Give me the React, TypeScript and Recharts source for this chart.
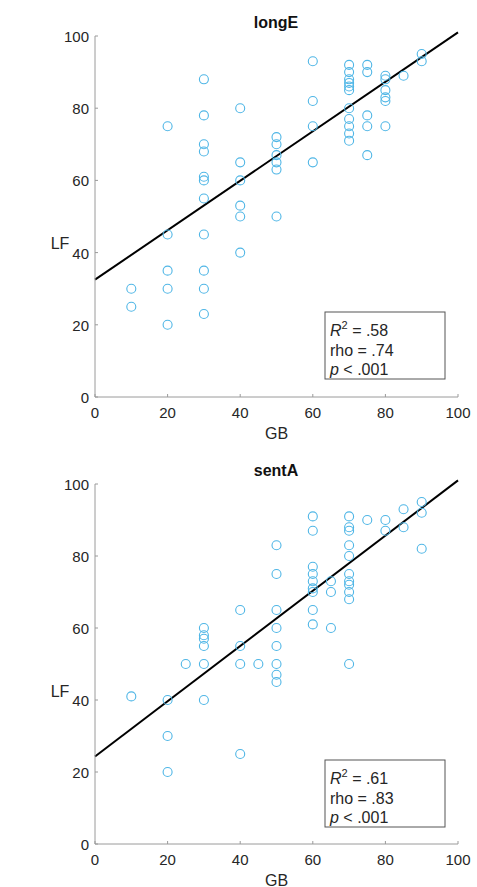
import React from 'react'
import { ReferenceLine, Scatter, ScatterChart, XAxis, YAxis } from 'recharts'

const gbTicks = [0, 20, 40, 60, 80, 100]
const lfTicks = [0, 20, 40, 60, 80, 100]

// longE panel
const longEGB = [
  10, 10,
  20, 20, 20, 20, 20,
  30, 30, 30, 30, 30, 30, 30, 30, 30, 30, 30,
  40, 40, 40, 40, 40, 40,
  50, 50, 50, 50, 50, 50,
  60, 60, 60, 60,
  70, 70, 70, 70, 70, 70, 70, 70, 70, 70, 70,
  75, 75, 75, 75, 75,
  80, 80, 80, 80, 80, 80,
  85,
  90, 90,
]
const longELF = [
  30, 25,
  75, 45, 35, 30, 20,
  88, 78, 70, 68, 61, 60, 55, 45, 35, 30, 23,
  80, 65, 60, 53, 50, 40,
  72, 70, 67, 65, 63, 50,
  93, 82, 75, 65,
  92, 90, 88, 87, 86, 85, 80, 77, 75, 73, 71,
  92, 90, 78, 75, 67,
  89, 88, 85, 83, 82, 75,
  89,
  95, 93,
]
const longEFitX = [0, 100]
const longEFitY = [32.5, 101]
const longEStats = ['.58', '.74', '.001']

// sentA panel
const sentAGB = [
  10,
  20, 20, 20,
  25,
  30, 30, 30, 30, 30, 30,
  40, 40, 40, 40,
  45,
  50, 50, 50, 50, 50, 50, 50, 50,
  60, 60, 60, 60, 60, 60, 60, 60, 60,
  65, 65, 65,
  70, 70, 70, 70, 70, 70, 70, 70, 70, 70, 70,
  75,
  80, 80,
  85, 85,
  90, 90, 90,
]
const sentALF = [
  41,
  40, 30, 20,
  50,
  60, 58, 57, 55, 50, 40,
  65, 55, 50, 25,
  50,
  83, 75, 65, 60, 55, 50, 47, 45,
  91, 87, 77, 75, 73, 71, 70, 65, 61,
  73, 70, 60,
  91, 88, 87, 83, 80, 75, 73, 72, 70, 68, 50,
  90,
  90, 87,
  93, 88,
  95, 92, 82,
]
const sentAFitX = [0, 100]
const sentAFitY = [24.3, 101]
const sentAStats = ['.61', '.83', '.001']

const FONT = '"Liberation Sans", Arial, Helvetica, sans-serif'
const AXIS = '#9a9a9a'
const TEXT = '#262626'
const BLUE = '#4fb6e6'

function XTick({ x, y, payload }: any) {
  return (
    <g>
      <line x1={x} y1={y} x2={x} y2={y - 3} stroke={AXIS} />
      <text x={x} y={y + 21} textAnchor="middle" fontSize={15} fontFamily={FONT} fill={TEXT}>{payload.value}</text>
    </g>
  )
}

function YTick({ x, y, payload }: any) {
  return (
    <g>
      <line x1={x} y1={y} x2={x + 3} y2={y} stroke={AXIS} />
      <text x={x - 6} y={y + 6} textAnchor="end" fontSize={15} fontFamily={FONT} fill={TEXT}>{payload.value}</text>
    </g>
  )
}

const ring = (p: any) => <circle cx={p.cx} cy={p.cy} r={4.5} fill="none" stroke={BLUE} strokeWidth={1.1} />

function Panel({ title, gb, lf, fitX, fitY, stats, height }: {
  title: string; gb: number[]; lf: number[]; fitX: number[]; fitY: number[]; stats: string[]; height: number
}) {
  const data = gb.map((g, i) => ({ gb: g, lf: lf[i] }))
  const top = 36
  const bottom = height - 43
  return (
    <div style={{ position: 'relative', width: 477, height }}>
      <ScatterChart width={477} height={height} margin={{ top, right: 19, bottom: 0, left: 0 }}>
        <XAxis type="number" dataKey="gb" domain={[0, 100]} ticks={gbTicks} interval={0} height={43}
          tickSize={0} tickMargin={0} tickLine={false} axisLine={{ stroke: AXIS }} tick={<XTick />} />
        <YAxis type="number" dataKey="lf" domain={[0, 100]} ticks={lfTicks} interval={0} width={95}
          tickSize={0} tickMargin={0} tickLine={false} axisLine={{ stroke: AXIS }} tick={<YTick />} />
        <Scatter data={data} shape={ring} isAnimationActive={false} />
        <ReferenceLine segment={[{ x: fitX[0], y: fitY[0] }, { x: fitX[1], y: fitY[1] }]}
          stroke="#000" strokeWidth={2} ifOverflow="visible" />
      </ScatterChart>
      <svg width={477} height={height} style={{ position: 'absolute', left: 0, top: 0, pointerEvents: 'none' }}
        fontFamily={FONT} fill={TEXT}>
        <text x={276} y={top - 8} textAnchor="middle" fontSize={16} fontWeight="bold" fill="#111">{title}</text>
        <text x={60} y={top + 213} textAnchor="middle" fontSize={16}>LF</text>
        <text x={276.5} y={bottom + 41.5} textAnchor="middle" fontSize={16}>GB</text>
        <rect x={325} y={top + 276} width={120} height={67} fill="#fff" stroke="#555" strokeWidth={1} />
        <text x={330} y={top + 300} fontSize={16}>
          <tspan fontStyle="italic">R</tspan>
          <tspan dy={-7} fontSize={11}>2</tspan>
          <tspan dy={7}>{' = ' + stats[0]}</tspan>
        </text>
        <text x={330} y={top + 319.5} fontSize={16}>{'rho = ' + stats[1]}</text>
        <text x={330} y={top + 339} fontSize={16}>
          <tspan fontStyle="italic">p</tspan>
          <tspan>{' < ' + stats[2]}</tspan>
        </text>
      </svg>
    </div>
  )
}

export default function App() {
  return (
    <div style={{ position: 'absolute', left: 0, top: 0, width: 477, height: 887, overflow: 'hidden', background: '#fff' }}>
      <Panel title="longE" gb={longEGB} lf={longELF} fitX={longEFitX} fitY={longEFitY} stats={longEStats} height={440} />
      <div style={{ height: 8 }} />
      <Panel title="sentA" gb={sentAGB} lf={sentALF} fitX={sentAFitX} fitY={sentAFitY} stats={sentAStats} height={439} />
    </div>
  )
}
